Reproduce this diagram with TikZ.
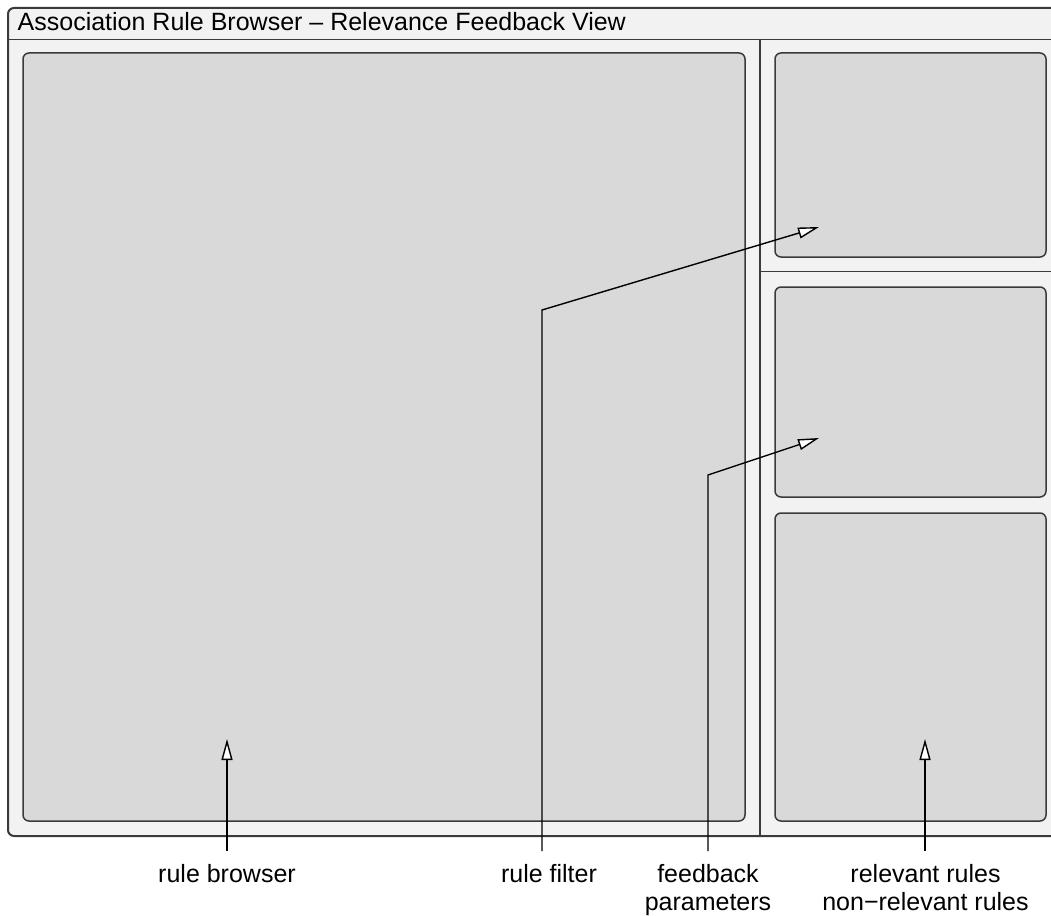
\documentclass[tikz,border=0pt]{standalone}
\usepackage{fontspec}
\setmainfont{Liberation Sans}
\usetikzlibrary{arrows.meta}
\definecolor{framebg}{HTML}{F2F2F2}
\definecolor{panelbg}{HTML}{D9D9D9}
\definecolor{edge}{HTML}{3A3A3A}
\begin{document}
\begin{tikzpicture}[x=1pt,y=-1pt,
  frame/.style={draw=edge,fill=framebg,line width=2pt,rounded corners=6pt},
  divider/.style={draw=edge,line width=1.6pt},
  panel/.style={draw=edge,fill=panelbg,line width=1.5pt,rounded corners=6pt,inner sep=0pt},
  lbl/.style={font=\fontsize{25}{28}\selectfont,align=center,inner sep=0pt},
  arr/.style={draw=black,line width=1.4pt,-{Triangle[open,length=21pt,width=11pt,fill=white]}}]
\useasboundingbox (0,0) rectangle (1051,915);
\clip (0,0) rectangle (1051,915);
% outer window
\path[frame] (8,8) rectangle (1080,836);
\coordinate (tl) at (8,39.5);
\coordinate (tr) at (1080,39.5);
\draw[divider] (tl) -- (tr);
\coordinate (vt) at (760,39.5);
\coordinate (vb) at (760,836);
\draw[divider] (vt) -- (vb);
\coordinate (hl) at (760,271.5);
\coordinate (hr) at (1080,271.5);
\draw[divider] (hl) -- (hr);
\node[lbl,anchor=base west] (title) at (17.5,30.5) {Association Rule Browser – Relevance Feedback View};
% panels
\node[panel,minimum width=722pt,minimum height=768pt] (browser) at (384,437) {};
\node[panel,minimum width=271pt,minimum height=204pt] (filter) at (910.5,155) {};
\node[panel,minimum width=271pt,minimum height=210pt] (params) at (910.5,392) {};
\node[panel,minimum width=271pt,minimum height=308pt] (rules) at (910.5,667) {};
% labels
\node[lbl,anchor=base] (lrb) at (227,882) {rule browser};
\node[lbl,anchor=base] (lrf) at (549,882) {rule filter};
\node[lbl,anchor=base] (lfp) at (708,910) {feedback\\parameters};
\node[lbl,anchor=base] (lrr) at (925.5,910) {relevant rules\\non−relevant rules};
% arrows
\coordinate (rbS) at (227,851);
\coordinate (rbT) at (227,739);
\draw[arr] (rbS) -- (rbT);
\coordinate (rfS) at (542,851);
\coordinate (rfB) at (542,310);
\coordinate (rfT) at (819,227);
\draw[arr] (rfS) -- (rfB) -- (rfT);
\coordinate (fpS) at (708,851);
\coordinate (fpB) at (708,475);
\coordinate (fpT) at (819,438);
\draw[arr] (fpS) -- (fpB) -- (fpT);
\coordinate (rrS) at (925,851);
\coordinate (rrT) at (925,739);
\draw[arr] (rrS) -- (rrT);
\end{tikzpicture}
\end{document}
